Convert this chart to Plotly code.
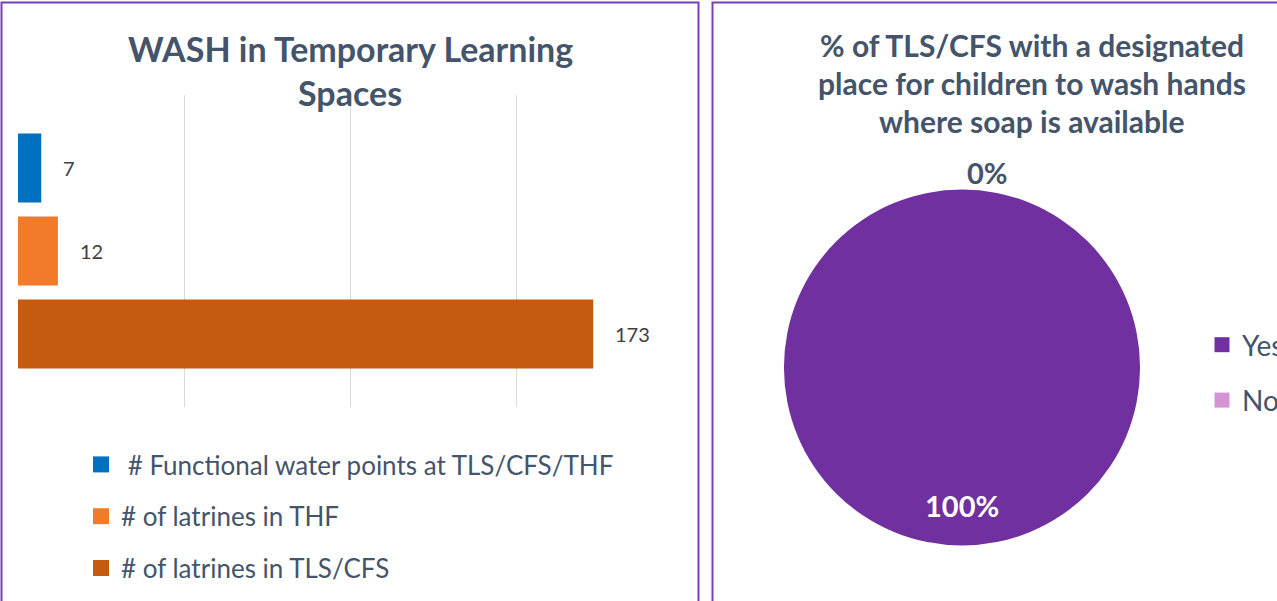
import plotly.graph_objects as go

# ---- data ----
bar_categories = ["# Functional water points at TLS/CFS/THF", "# of latrines in THF", "# of latrines in TLS/CFS"]
bar_values = [7, 12, 173]
bar_colors = ["#0070C0", "#F27B2A", "#C55A11"]
x_ticks = [0, 50, 100, 150, 200]

pie_labels = ["Yes", "No"]
pie_values = [100, 0]
pie_colors = ["#7030A0", "#D592D4"]

title_left = ["WASH in Temporary Learning", "Spaces"]
title_right = ["% of TLS/CFS with a designated", "place for children to wash hands", "where soap is available"]

W, H = 1277, 601
FONT = "Lato"
SLATE = "#44546A"

def px(x):
    return x / W

def py(y):
    return 1 - y / H

fig = go.Figure()

for i, (cat, val, col) in enumerate(zip(bar_categories, bar_values, bar_colors)):
    fig.add_trace(go.Bar(
        x=[val], y=[cat], orientation="h", name=cat,
        marker=dict(color=col, line=dict(width=0)),
        width=0.83, legendgroup=f"g{i}", showlegend=False,
        hoverinfo="x+name",
    ))

# legend entries for the bars (square swatches)
for i, (cat, col) in enumerate(zip(bar_categories, bar_colors)):
    name = ("\u00a0" + cat) if i == 0 else cat
    fig.add_trace(go.Scatter(
        x=[None], y=[None], mode="markers", name=name,
        marker=dict(symbol="square", size=16, color=col),
        legendgroup=f"g{i}", legend="legend", showlegend=True, hoverinfo="skip",
    ))

fig.add_trace(go.Pie(
    labels=pie_labels, values=pie_values,
    marker=dict(colors=pie_colors, line=dict(width=0)),
    textinfo="none", sort=False, direction="clockwise", rotation=0,
    domain=dict(x=[px(784), px(1140)], y=[py(546), py(189)]),
    showlegend=False,
))

# legend entries for the pie
for k, (lab, col) in enumerate(zip(pie_labels, pie_colors)):
    fig.add_trace(go.Scatter(
        x=[None], y=[None], mode="markers", name=lab,
        marker=dict(symbol="square", size=15, color=col),
        legendgroup=f"p{k}", legend="legend2", showlegend=True, hoverinfo="skip",
    ))

annotations = []
for cat, val in zip(bar_categories, bar_values):
    annotations.append(dict(
        x=val, y=cat, xref="x", yref="y", text=str(val), showarrow=False,
        xanchor="left", yanchor="middle", xshift=20,
        font=dict(family=FONT, size=20, color="#404040"),
    ))

for j, line in enumerate(title_left):
    annotations.append(dict(
        x=px(350), y=py(48 + 45 * j), xref="paper", yref="paper", text=f"<b>{line}</b>",
        showarrow=False, xanchor="center", yanchor="middle",
        font=dict(family=FONT, size=34, color=SLATE),
    ))
for j, line in enumerate(title_right):
    annotations.append(dict(
        x=px(1032), y=py(45 + 38 * j), xref="paper", yref="paper", text=f"<b>{line}</b>",
        showarrow=False, xanchor="center", yanchor="middle",
        font=dict(family=FONT, size=30, color=SLATE),
    ))

total = sum(pie_values)
pcts = [round(100 * v / total) for v in pie_values]
annotations.append(dict(
    x=px(962), y=py(505), xref="paper", yref="paper", text=f"<b>{pcts[0]}%</b>",
    showarrow=False, xanchor="center", yanchor="middle",
    font=dict(family=FONT, size=29, color="white"),
))
annotations.append(dict(
    x=px(987), y=py(173), xref="paper", yref="paper", text=f"<b>{pcts[1]}%</b>",
    showarrow=False, xanchor="center", yanchor="middle",
    font=dict(family=FONT, size=29, color=SLATE),
))

shapes = [
    dict(type="rect", xref="paper", yref="paper", x0=px(1.5), x1=px(698.5), y0=-0.05, y1=py(2.5),
         line=dict(color="#7A3DB8", width=2), layer="below"),
    dict(type="rect", xref="paper", yref="paper", x0=px(712.5), x1=1.05, y0=-0.05, y1=py(2.5),
         line=dict(color="#7A3DB8", width=2), layer="below"),
]

fig.update_layout(
    width=W, height=H,
    margin=dict(l=0, r=0, t=0, b=0, autoexpand=False),
    paper_bgcolor="white", plot_bgcolor="white",
    barmode="overlay",
    font=dict(family=FONT, color=SLATE),
    xaxis=dict(domain=[px(17), px(684)], range=[-0.3, 200.3], tickvals=x_ticks,
               showticklabels=False, showgrid=True, gridcolor="#D9D9D9", gridwidth=1,
               zeroline=False, showline=False, ticks="", fixedrange=True),
    yaxis=dict(domain=[py(407), py(95)], type="category", categoryorder="array",
               categoryarray=bar_categories, range=[2.88, -0.88], autorange=False,
               showticklabels=False, showgrid=False, zeroline=False, showline=False, ticks=""),
    legend=dict(x=px(81), y=py(441), xanchor="left", yanchor="top",
                font=dict(family=FONT, size=26, color=SLATE),
                traceorder="grouped", tracegroupgap=15, bgcolor="rgba(0,0,0,0)"),
    legend2=dict(x=px(1202), y=py(320), xanchor="left", yanchor="top",
                 xref="container", yref="container",
                 font=dict(family=FONT, size=28, color=SLATE),
                 traceorder="grouped", tracegroupgap=16, bgcolor="rgba(0,0,0,0)"),
    annotations=annotations,
    shapes=shapes,
    showlegend=True,
)

fig.write_html("out.html")
